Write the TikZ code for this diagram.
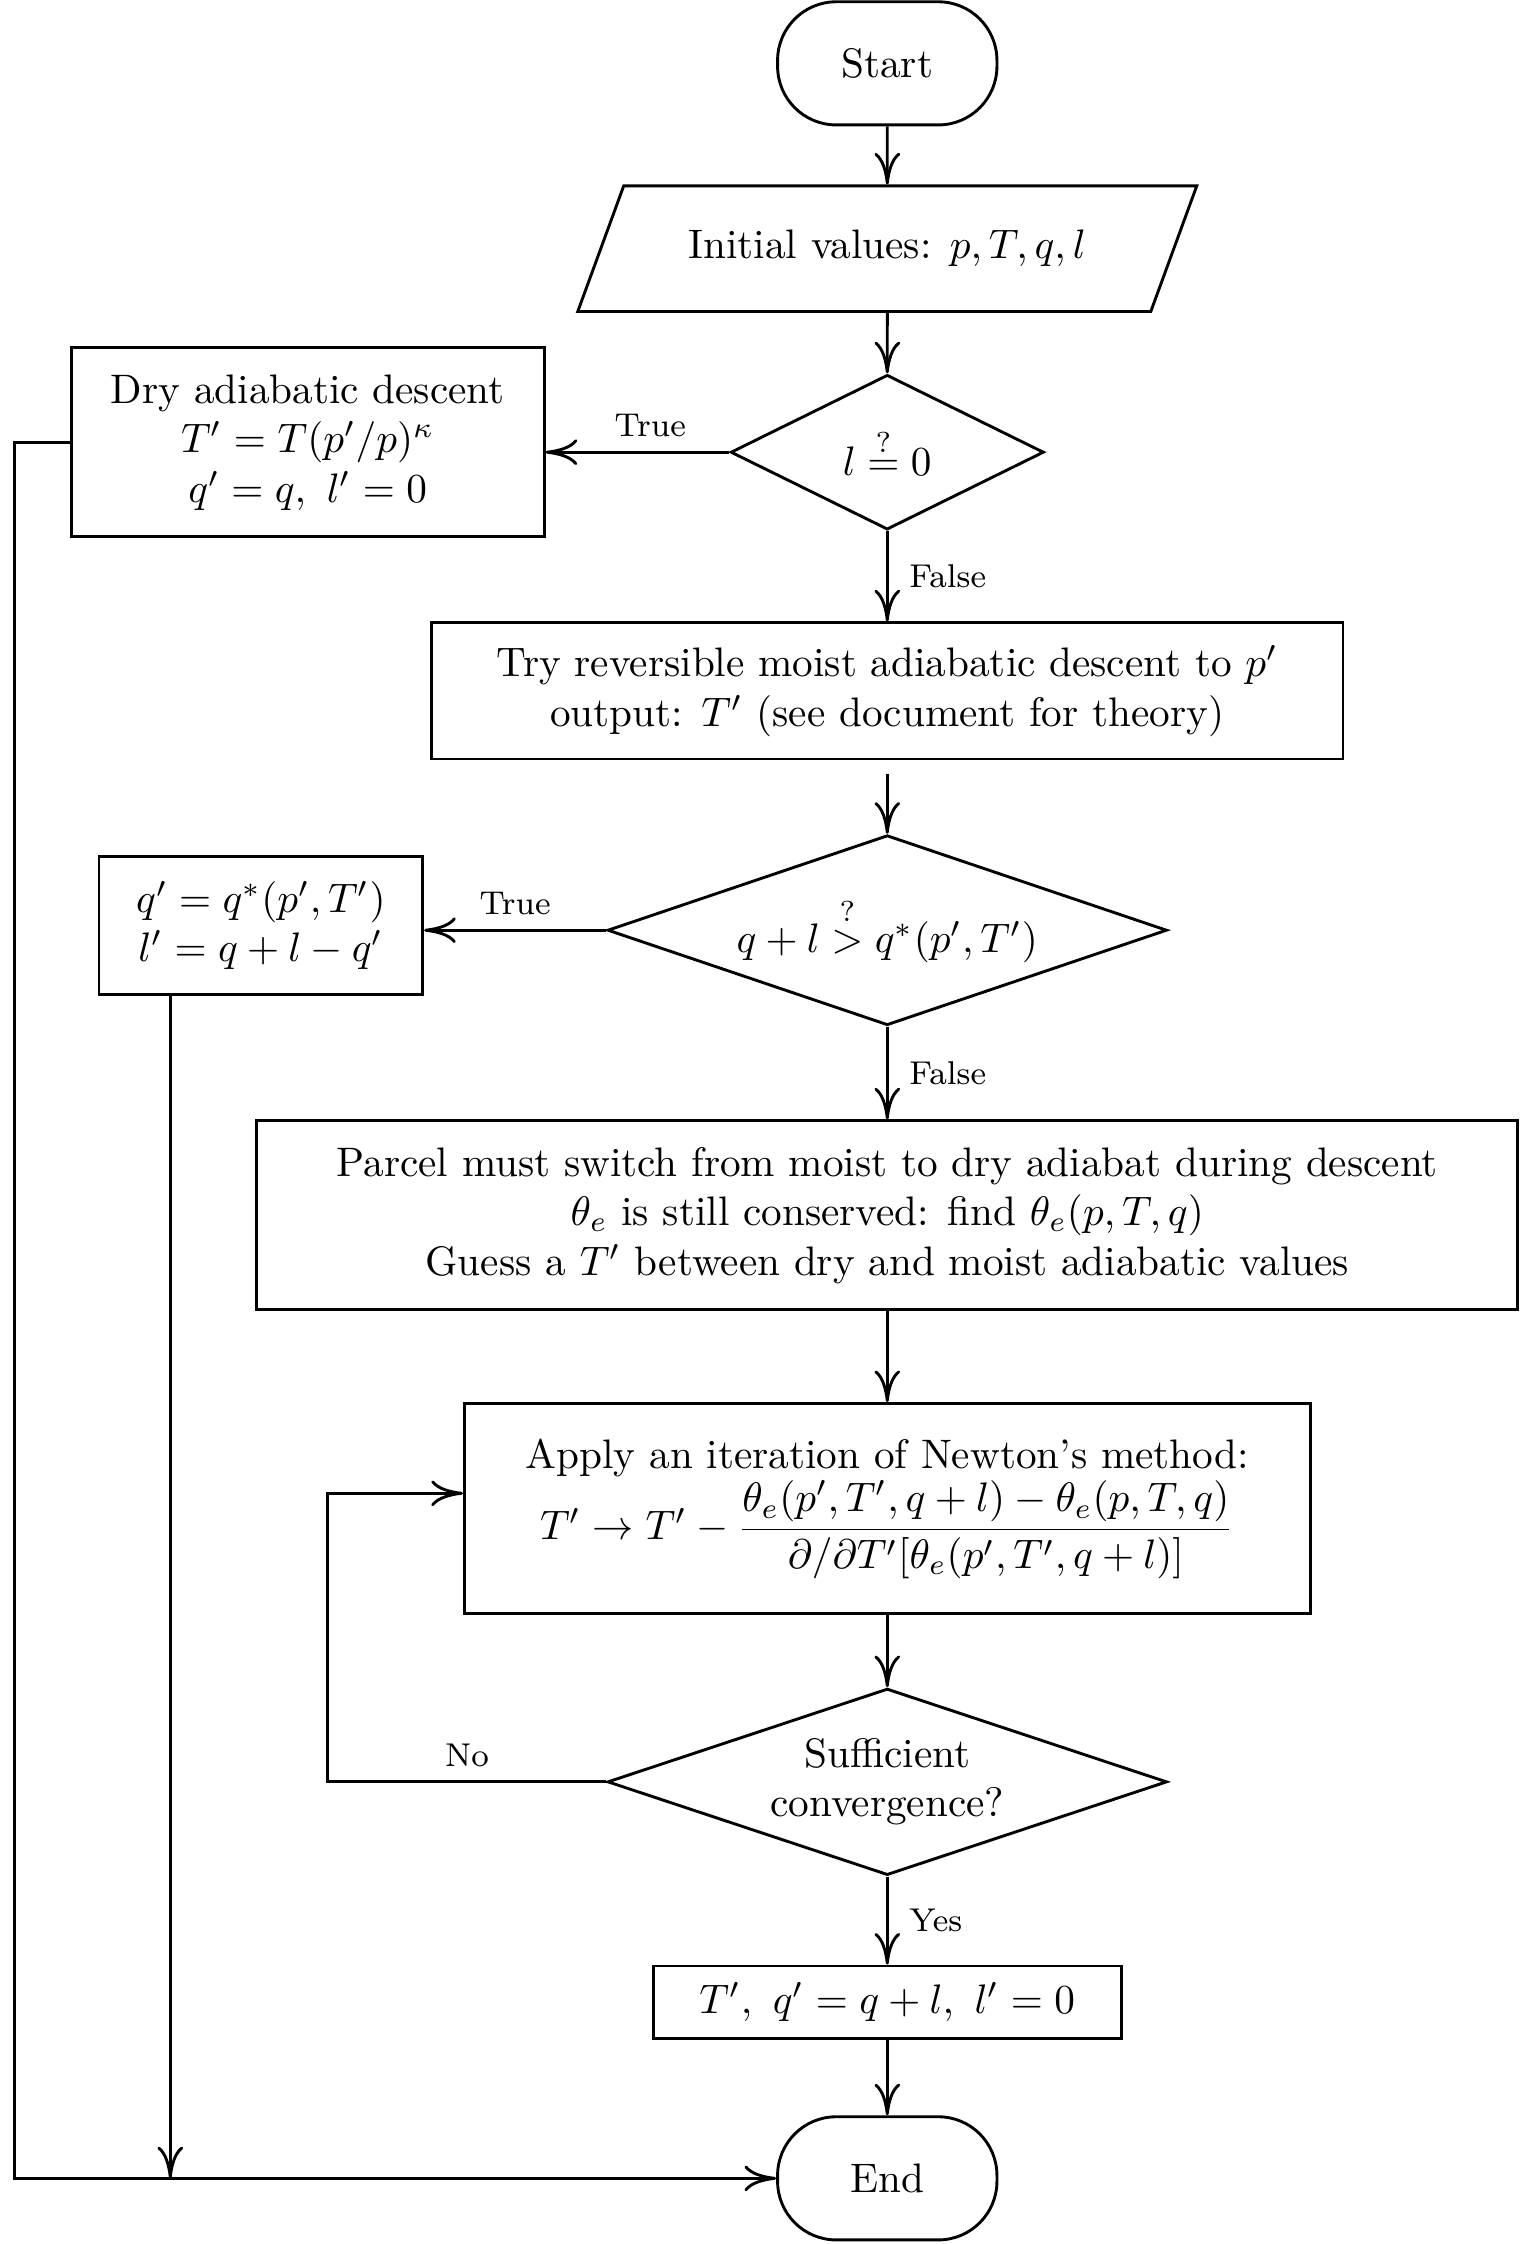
\documentclass[tikz,border=0pt]{standalone}
\usepackage{amsmath}
\usetikzlibrary{shapes.geometric,%
                arrows.meta,%
                positioning}

\begin{document}
\begin{tikzpicture}[line width=0.7pt,
    >={To[length=2.7mm,width=2.2mm]},
    startstop/.style={draw,rounded corners=0.5cm,minimum width=1.87cm,minimum height=1.05cm},
    io/.style={draw,trapezium,trapezium left angle=60,trapezium right angle=120,
      trapezium stretches=true,minimum width=5.28cm,minimum height=1.07cm},
    decision/.style={draw,diamond,inner sep=0pt,aspect=3,align=center},
    process/.style={draw,align=center},
    lbl/.style={font=\footnotesize}]

      \useasboundingbox (-7.564,0) rectangle (5.392,-19.13);

      % main column
      \node[startstop] (start) at (0,-0.54) {Start};
      \node[io] (init) at (0,-2.12) {Initial values: $p,T,q,l$};
      \node[decision,aspect=2,minimum width=2.67cm,minimum height=1.32cm] (liq) at (0,-3.855)
        {$l\stackrel{?}{=}0$};
      \node[process,minimum width=7.77cm,minimum height=1.16cm] (moist) at (0,-5.89)
        {Try reversible moist adiabatic descent to $p'$\\ output: $T'$ (see document for theory)};
      \node[decision,minimum width=4.77cm,minimum height=1.62cm] (sat) at (0,-7.93)
        {$q+l\stackrel{?}{>}q^*(p',T')$};
      \node[process,minimum width=10.75cm,minimum height=1.61cm] (switch) at (0,-10.36)
        {Parcel must switch from moist to dry adiabat during descent\\
         $\theta_e$ is still conserved: find $\theta_e(p,T,q)$\\
         Guess a $T'$ between dry and moist adiabatic values};
      \node[process,minimum width=7.21cm,minimum height=1.79cm] (newton) at (0,-12.86)
        {Apply an iteration of Newton's method:\\
         $T'\to T'-\dfrac{\theta_e(p',T',q+l)-\theta_e(p,T,q)}{\partial/\partial T'[\theta_e(p',T',q+l)]}$};
      \node[decision,minimum width=4.77cm,minimum height=1.59cm] (conv) at (0,-15.19)
        {Sufficient\\ convergence?};
      \node[process,minimum width=3.99cm,minimum height=0.62cm] (final) at (0,-17.07)
        {$T',\ q'=q+l,\ l'=0$};
      \node[startstop] (end) at (0,-18.57) {End};

      % side boxes
      \node[process,minimum width=4.03cm,minimum height=1.61cm] (dry) at (-4.94,-3.77)
        {Dry adiabatic descent\\ $T'=T(p'/p)^\kappa$\\ $q'=q,\ l'=0$};
      \node[process,minimum width=2.76cm,minimum height=1.18cm] (sat1) at (-5.34,-7.89)
        {$q'=q^*(p',T')$\\ $l'=q+l-q'$};

      \coordinate (lft) at (-7.44,0);
      \coordinate (loop) at (-4.77,0);
      \coordinate (qdrop) at ([xshift=6.2mm]sat1.south west);

      \draw[->] (start) -- (init);
      \draw[->] (init) -- (liq);
      \draw[->] (liq.west) -- node[lbl,above,pos=0.43]{True} (liq.west -| dry.east);
      \draw[->] (liq) -- node[lbl,right,xshift=0.6mm]{False} (moist);
      \draw[->] ([yshift=-1.2mm]moist.south) -- (sat);
      \draw[->] (sat.west) -- node[lbl,above]{True} (sat.west -| sat1.east);
      \draw[->] (sat) -- node[lbl,right,xshift=0.6mm]{False} (switch);
      \draw[->] (switch) -- (newton);
      \draw[->] (newton) -- (conv);
      \draw[->] (conv.west) -- node[lbl,above]{No} (conv.west -| loop)
        |- ([yshift=1.3mm]newton.west);
      \draw[->] (conv) -- node[lbl,right,xshift=0.6mm]{Yes} (final);
      \draw[->] (final) -- (end);

      % back to the end
      \draw[->] (dry.west) -- (dry.west -| lft) |- (end.west);
      \draw[->] (qdrop) -- (qdrop |- end.west);

\end{tikzpicture}
\end{document}
